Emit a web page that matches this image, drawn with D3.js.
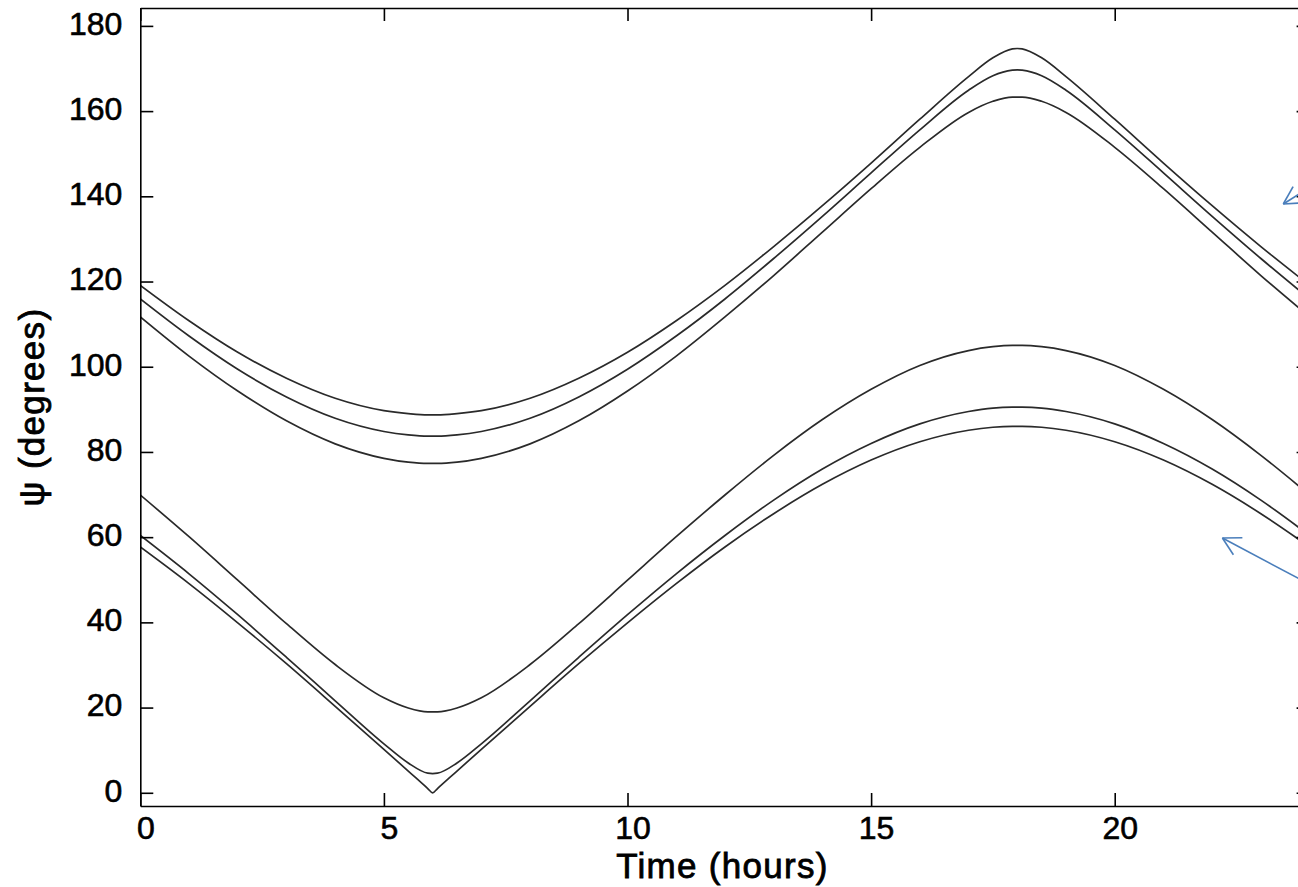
<!DOCTYPE html>
<html>

<head>
    <meta charset="utf-8">
    <script src="https://d3js.org/d3.v7.min.js"></script>
    <style>
        * {
            margin: 0;
            padding: 0;
        }

        body {
            background: #fff;
            overflow: hidden;
        }

        .axis text {
            font-family: "Liberation Sans", Arial, sans-serif;
            font-size: 32px;
            fill: #000;
            stroke: #000;
            stroke-width: 0.6px;
        }

        .title {
            font-family: "Liberation Sans", Arial, sans-serif;
            font-size: 35px;
            letter-spacing: 1.3px;
            fill: #000;
            stroke: #000;
            stroke-width: 0.8px;
        }
    </style>
</head>

<body>
    <div id="chart"></div>
</body>
<script>
    let hours = [0, 1, 2, 3, 4, 5, 5.5, 5.9, 6, 6.1, 6.5, 7, 8, 9, 10, 11, 12,
        13, 14, 15, 16, 17, 17.5, 17.9, 18, 18.1, 18.5, 19, 20, 21, 22, 23, 24];

    // upper group of curves
    let psiTop1 = [119.1, 110.8, 103.4, 97.3, 92.6, 89.7, 89.0, 88.7, 88.7, 88.7, 89.0, 89.7, 92.6, 97.3, 103.4, 110.8, 119.1,
        128.2, 137.8, 147.8, 158.1, 168.1, 172.5, 174.6, 174.7, 174.6, 172.5, 168.1, 158.1, 147.8, 137.8, 128.2, 119.1];
    let psiTop2 = [115.9, 107.2, 99.4, 92.9, 87.9, 84.8, 84.0, 83.7, 83.7, 83.7, 84.0, 84.8, 87.9, 92.9, 99.4, 107.2, 115.9,
        125.4, 135.3, 145.5, 155.6, 164.9, 168.3, 169.6, 169.7, 169.6, 168.3, 164.9, 155.6, 145.5, 135.3, 125.4, 115.9];
    let psiTop3 = [111.7, 102.5, 94.3, 87.3, 81.9, 78.5, 77.6, 77.3, 77.3, 77.3, 77.6, 78.5, 81.9, 87.3, 94.3, 102.5, 111.7,
        121.4, 131.6, 141.8, 151.5, 159.7, 162.3, 163.3, 163.3, 163.3, 162.3, 159.7, 151.5, 141.8, 131.6, 121.4, 111.7];

    // lower group of curves
    let psiLow1 = [69.9, 60.1, 49.9, 39.7, 30.1, 22.3, 19.9, 19.0, 19.0, 19.0, 19.9, 22.3, 30.1, 39.7, 49.9, 60.1, 69.9,
        79.2, 87.6, 94.7, 100.3, 103.8, 104.7, 105.0, 105.0, 105.0, 104.7, 103.8, 100.3, 94.7, 87.6, 79.2, 69.9];
    let psiLow2 = [60.4, 51.4, 41.8, 31.8, 21.6, 11.5, 7.0, 4.6, 4.5, 4.6, 7.0, 11.5, 21.6, 31.8, 41.8, 51.4, 60.4,
        68.7, 76.0, 82.0, 86.6, 89.5, 90.3, 90.5, 90.5, 90.5, 90.3, 89.5, 86.6, 82.0, 76.0, 68.7, 60.4];
    let psiLow3 = [57.7, 49.1, 39.9, 30.3, 20.3, 10.2, 5.1, 1.0, 0, 1.0, 5.1, 10.2, 20.3, 30.3, 39.9, 49.1, 57.7,
        65.5, 72.4, 78.1, 82.4, 85.1, 85.8, 86.0, 86.0, 86.0, 85.8, 85.1, 82.4, 78.1, 72.4, 65.5, 57.7];

    let xTicks = [0, 5, 10, 15, 20];
    let yTicks = [0, 20, 40, 60, 80, 100, 120, 140, 160, 180];

    // blue annotation arrows: tip in data units, shaft angle in degrees (screen)
    let arrowTips = [[23.46, 138.2], [22.21, 59.8]];
    let arrowAngles = [-32, 28];

    let series = [psiTop1, psiTop2, psiTop3, psiLow1, psiLow2, psiLow3];

    let W = 1298, H = 887;
    let m = { left: 140.3, right: 1309.6, top: 8, bottom: 806 };

    let svg = d3.select("#chart").append("svg")
        .attr("width", W)
        .attr("height", H);

    let x = d3.scaleLinear().domain([0, 24]).range([m.left, m.right]);
    let y = d3.scaleLinear().domain([-3.1, 184.2]).range([m.bottom, m.top]);

    svg.append("clipPath").attr("id", "plot")
        .append("rect")
        .attr("x", m.left).attr("y", m.top)
        .attr("width", m.right - m.left).attr("height", m.bottom - m.top);

    let line = d3.line()
        .x((d, i) => x(hours[i]))
        .y(d => y(d))
        .curve(d3.curveMonotoneX);

    svg.append("g")
        .attr("clip-path", "url(#plot)")
        .selectAll("path")
        .data(series)
        .enter()
        .append("path")
        .attr("d", line)
        .attr("fill", "none")
        .attr("stroke", "#2a2a2a")
        .attr("stroke-width", 1.7);

    // axes, ticks pointing inward on all four sides
    let gx = svg.append("g")
        .attr("class", "axis")
        .attr("transform", "translate(0," + m.bottom + ")")
        .call(d3.axisBottom(x).tickValues(xTicks).tickSize(-13).tickSizeOuter(0).tickPadding(10));
    gx.selectAll("text").attr("dx", 5);

    svg.append("g")
        .attr("class", "axis")
        .attr("transform", "translate(0," + m.top + ")")
        .call(d3.axisTop(x).tickValues(xTicks).tickSize(-13).tickSizeOuter(0).tickFormat(""));

    let gy = svg.append("g")
        .attr("class", "axis")
        .attr("transform", "translate(" + m.left + ",0)")
        .call(d3.axisLeft(y).tickValues(yTicks).tickSize(-13).tickSizeOuter(0).tickPadding(18));
    gy.selectAll("text").attr("dy", "0.26em");

    svg.append("g")
        .attr("class", "axis")
        .attr("transform", "translate(" + m.right + ",0)")
        .call(d3.axisRight(y).tickValues(yTicks).tickSize(-13).tickSizeOuter(0).tickFormat(""));

    svg.selectAll(".axis path, .axis line")
        .attr("stroke", "#000")
        .attr("stroke-width", 1.6);

    svg.append("text")
        .attr("class", "title")
        .attr("x", 722.5)
        .attr("y", 878)
        .attr("text-anchor", "middle")
        .text("Time (hours)");

    svg.append("text")
        .attr("class", "title")
        .attr("transform", "translate(43.5," + (m.top + m.bottom) / 2 + ") rotate(-90)")
        .attr("text-anchor", "middle")
        .text("ψ (degrees)");

    // annotation arrows
    let blue = "#4a7ebb";
    arrowTips.forEach((p, i) => {
        let tx = x(p[0]), ty = y(p[1]);
        let a = arrowAngles[i] * Math.PI / 180;
        let g = svg.append("g")
            .attr("stroke", blue)
            .attr("stroke-width", 1.6)
            .attr("fill", "none");
        g.append("line")
            .attr("x1", tx).attr("y1", ty)
            .attr("x2", tx + 200 * Math.cos(a)).attr("y2", ty + 200 * Math.sin(a));
        [-0.5, 0.5].forEach(s => {
            g.append("line")
                .attr("x1", tx).attr("y1", ty)
                .attr("x2", tx + 20 * Math.cos(a + s)).attr("y2", ty + 20 * Math.sin(a + s));
        });
    });
</script>

</html>
